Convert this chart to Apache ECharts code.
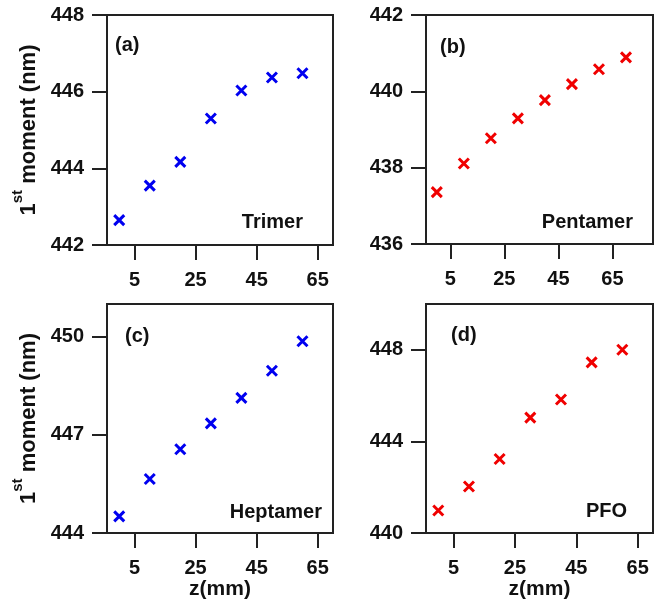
<!DOCTYPE html>
<html>
<head>
<meta charset="utf-8">
<script src="https://cdn.jsdelivr.net/npm/echarts@6/dist/echarts.min.js"></script>
<style>
  html, body { margin: 0; padding: 0; background: #fff; }
  #chart { width: 662px; height: 607px; }
</style>
</head>
<body>
<div id="chart"></div>
<script>
// z positions (mm)
const zTrimer = [0, 10, 20, 30, 40, 50, 60];
const zPentamer = [0, 10, 20, 30, 40, 50, 60, 70];
const zHeptamer = [0, 10, 20, 30, 40, 50, 60];
const zPFO = [0, 10, 20, 30, 40, 50, 60];

// 1st moment (nm)
const trimer = [442.65, 443.55, 444.17, 445.3, 446.03, 446.37, 446.48];
const pentamer = [437.36, 438.11, 438.77, 439.29, 439.77, 440.19, 440.58, 440.89];
const heptamer = [444.51, 445.65, 446.56, 447.35, 448.13, 448.96, 449.86];
const pfo = [440.98, 442.03, 443.23, 445.04, 445.83, 447.45, 448.0];

const xTicks = [5, 25, 45, 65];
const yTicksA = [442, 444, 446, 448];
const yTicksB = [436, 438, 440, 442];
const yTicksC = [444, 447, 450];
const yTicksD = [440, 444, 448];

const FONT = "'Liberation Sans', Arial, sans-serif";
const INK = "#222";
const BLUE = "#0000f0";
const RED = "#f00000";

const grids = [
  { left: 107, top: 15, width: 226, height: 230 },
  { left: 426, top: 15, width: 227, height: 229 },
  { left: 107, top: 304, width: 226, height: 229 },
  { left: 426, top: 304, width: 227, height: 229 },
].map((g) => ({ ...g, show: true, borderColor: INK, borderWidth: 2 }));

function xAxis(idx, max, withName) {
  return {
    type: "value",
    gridIndex: idx,
    min: -4,
    max: max,
    axisLine: { show: true, onZero: false, lineStyle: { color: INK, width: 2 } },
    axisTick: { show: true, length: 15, lineStyle: { color: INK, width: 2 }, customValues: xTicks },
    axisLabel: {
      customValues: xTicks,
      color: "#111",
      fontFamily: FONT,
      fontWeight: "bold",
      fontSize: 20,
      margin: 25,
    },
    splitLine: { show: false },
    name: withName ? "z(mm)" : "",
    nameLocation: "middle",
    nameGap: 45,
    nameTextStyle: { color: "#111", fontFamily: FONT, fontWeight: "bold", fontSize: 21 },
  };
}

function yAxis(idx, min, max, ticks, withName) {
  return {
    type: "value",
    gridIndex: idx,
    min: min,
    max: max,
    axisLine: { show: true, onZero: false, lineStyle: { color: INK, width: 2 } },
    axisTick: { show: true, length: 15, lineStyle: { color: INK, width: 2 }, customValues: ticks },
    axisLabel: {
      customValues: ticks,
      color: "#111",
      fontFamily: FONT,
      fontWeight: "bold",
      fontSize: 20,
      margin: 23,
    },
    splitLine: { show: false },
    name: withName ? "{a|1}{s|st}{a| moment (nm)}" : "",
    nameLocation: "middle",
    nameRotate: 90,
    nameGap: 67,
    nameTextStyle: {
      color: "#111",
      rich: {
        a: { fontFamily: FONT, fontWeight: "bold", fontSize: 22, color: "#111", verticalAlign: "bottom", lineHeight: 30 },
        s: { fontFamily: FONT, fontWeight: "bold", fontSize: 15, color: "#111", verticalAlign: "top", lineHeight: 30 },
      },
    },
  };
}

function pairs(xs, ys) {
  return xs.map((x, i) => [x, ys[i]]);
}

const cross = "path://M0,0L10,10M10,0L0,10";

function scatter(idx, data, color) {
  return {
    type: "scatter",
    xAxisIndex: idx,
    yAxisIndex: idx,
    data: data,
    symbol: cross,
    symbolSize: 10,
    itemStyle: { color: "none", borderColor: color, borderWidth: 3, opacity: 1 },
    emphasis: { disabled: true },
  };
}

function label(text, x, y, align) {
  return {
    type: "text",
    x: x,
    y: y,
    style: {
      text: text,
      fill: "#111",
      font: "bold 20px " + FONT,
      align: align,
      verticalAlign: "middle",
    },
  };
}

const option = {
  animation: false,
  grid: grids,
  xAxis: [xAxis(0, 70, false), xAxis(1, 80, false), xAxis(2, 70, true), xAxis(3, 70, true)],
  yAxis: [
    yAxis(0, 442, 448, yTicksA, true),
    yAxis(1, 436, 442, yTicksB, false),
    yAxis(2, 444, 451, yTicksC, true),
    yAxis(3, 440, 450, yTicksD, false),
  ],
  series: [
    scatter(0, pairs(zTrimer, trimer), BLUE),
    scatter(1, pairs(zPentamer, pentamer), RED),
    scatter(2, pairs(zHeptamer, heptamer), BLUE),
    scatter(3, pairs(zPFO, pfo), RED),
  ],
  graphic: [
    label("(a)", 115, 45, "left"),
    label("Trimer", 303, 222, "right"),
    label("(b)", 440, 47, "left"),
    label("Pentamer", 633, 222, "right"),
    label("(c)", 125, 336, "left"),
    label("Heptamer", 322, 512, "right"),
    label("(d)", 451, 335, "left"),
    label("PFO", 627, 511, "right"),
  ],
};

const chart = echarts.init(document.getElementById("chart"));
chart.setOption(option);
</script>
</body>
</html>
